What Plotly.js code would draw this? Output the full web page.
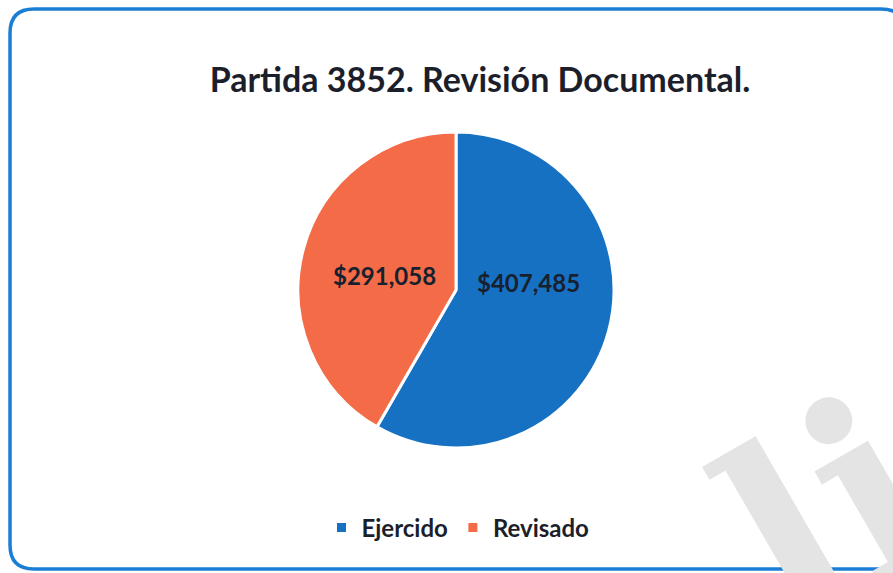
<!DOCTYPE html>
<html>
<head>
<meta charset="utf-8">
<script src="https://cdn.plot.ly/plotly-3.0.1.min.js"></script>
<style>
html,body{margin:0;padding:0;background:#fff;}
#chart{width:893px;height:573px;}
</style>
</head>
<body>
<div id="chart"></div>
<script>
const categories = ["Ejercido", "Revisado"];
const values = [407485, 291058];
const colors = ["#1771c2", "#f36b47"];
const titleText = "Partida 3852. Revisión Documental.";

const W = 893, H = 573;
function px(x){return x/W;}
function py(y){return 1 - y/H;}

// label anchor points (pixels) for each slice's value text
const labelPos = [[528, 283], [384, 275]];

const L = 10, T = 9, R = 905, B = 569, rr = 24;
const borderPath =
  `M ${px(L)},${py(T+rr)} Q ${px(L)},${py(T)} ${px(L+rr)},${py(T)} ` +
  `L ${px(R-rr)},${py(T)} Q ${px(R)},${py(T)} ${px(R)},${py(T+rr)} ` +
  `L ${px(R)},${py(B-rr)} Q ${px(R)},${py(B)} ${px(R-rr)},${py(B)} ` +
  `L ${px(L+rr)},${py(B)} Q ${px(L)},${py(B)} ${px(L)},${py(B-rr)} Z`;

const fmt = v => "$" + v.toLocaleString("en-US");

const trace = {
  type: "pie",
  labels: categories,
  values: values,
  sort: false,
  direction: "clockwise",
  rotation: 0,
  marker: {colors: colors, line: {color: "#ffffff", width: 3}},
  textinfo: "none",
  hoverinfo: "label+value",
  domain: {x: [px(298), px(614)], y: [py(448), py(132)]}
};

const labelAnnotations = values.map((v, i) => ({
  text: "<b>" + fmt(v) + "</b>",
  xref: "paper", yref: "paper",
  x: px(labelPos[i][0]), y: py(labelPos[i][1]),
  xanchor: "center", yanchor: "middle",
  showarrow: false,
  font: {family: "Lato, 'Open Sans', sans-serif", size: 24, color: "#17202e"}
}));

const layout = {
  width: W, height: H,
  margin: {l: 0, r: 0, t: 0, b: 0},
  paper_bgcolor: "#ffffff",
  showlegend: true,
  title: {
    text: "<b>" + titleText + "</b>",
    x: px(480), xanchor: "center",
    y: py(80), yanchor: "middle",
    font: {family: "Lato, 'Open Sans', sans-serif", size: 34, color: "#1c1f2b"}
  },
  legend: {
    orientation: "h",
    x: px(458), xanchor: "center",
    y: py(528), yanchor: "middle",
    font: {family: "Lato, 'Open Sans', sans-serif", size: 24, color: "#1c1f2b", weight: "bold"},
    itemwidth: 30,
    traceorder: "normal"
  },
  shapes: [{
    type: "path", xref: "paper", yref: "paper",
    path: borderPath,
    line: {color: "#1a7fd4", width: 3.5},
    fillcolor: "rgba(0,0,0,0)",
    layer: "below"
  }],
  annotations: [{
    text: "<b>li</b>", xref: "paper", yref: "paper",
    x: px(828), y: py(512), xanchor: "center", yanchor: "middle",
    showarrow: false, textangle: -30,
    font: {family: "DejaVu Serif, serif", size: 250, color: "#e4e4e4"}
  }].concat(labelAnnotations)
};

Plotly.newPlot("chart", [trace], layout, {displayModeBar: false, staticPlot: true});
</script>
</body>
</html>
